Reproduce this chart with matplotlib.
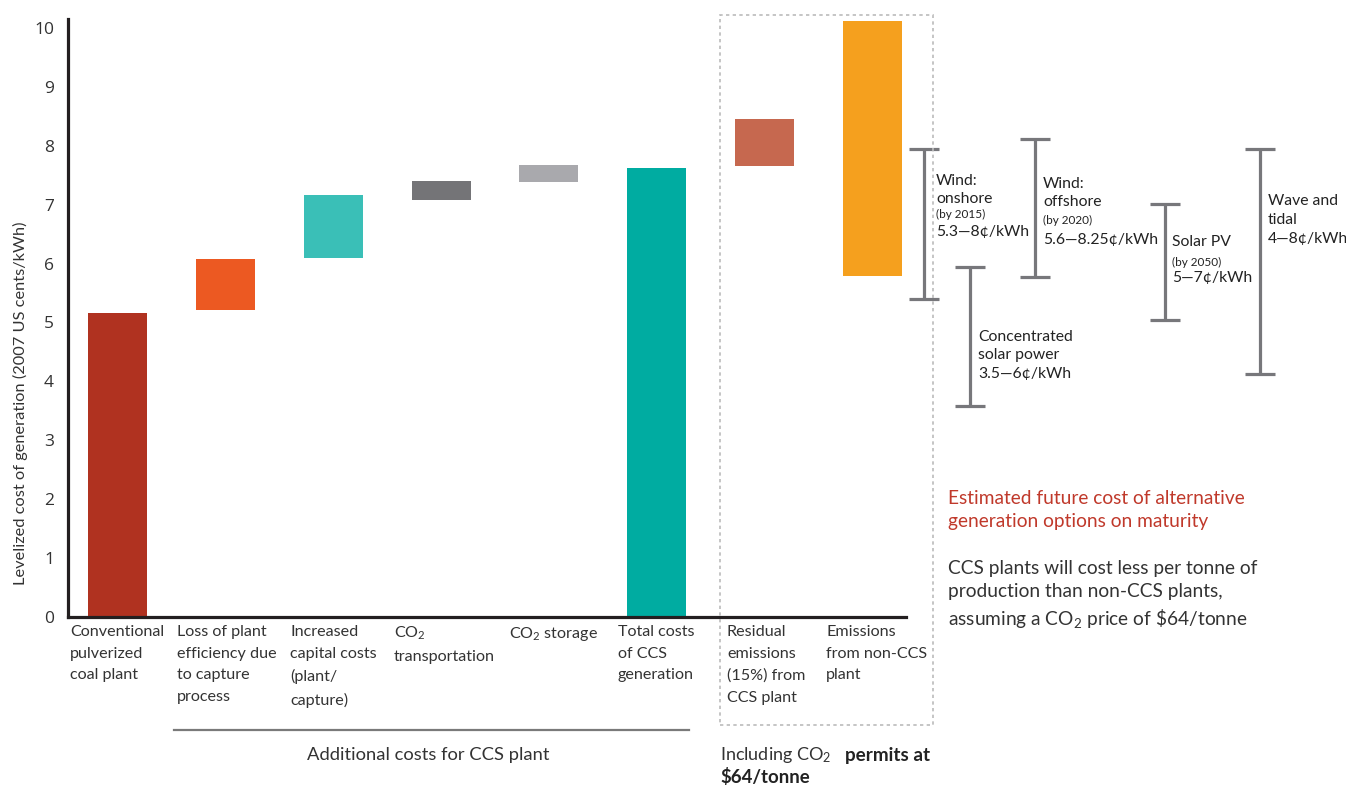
"""CCS plant cost waterfall with alternative generation ranges."""
import matplotlib.pyplot as plt
from matplotlib.patches import Rectangle
from matplotlib.lines import Line2D

plt.rcParams['font.family'] = ['Lato', 'DejaVu Sans']
plt.rcParams['mathtext.fontset'] = 'custom'
plt.rcParams['mathtext.rm'] = 'Lato'
plt.rcParams['mathtext.it'] = 'Lato:italic'
plt.rcParams['mathtext.bf'] = 'Lato:bold'

# bars (floating waterfall)
categories = [
    "Conventional\npulverized\ncoal plant",
    "Loss of plant\nefficiency due\nto capture\nprocess",
    "Increased\ncapital costs\n(plant/\ncapture)",
    "CO$_2$\ntransportation",
    "CO$_2$ storage",
    "Total costs\nof CCS\ngeneration",
    "Residual\nemissions\n(15%) from\nCCS plant",
    "Emissions\nfrom non-CCS\nplant",
]
bar_bottoms = [0, 5.21, 6.09, 7.08, 7.39, 0, 7.66, 5.79]
bar_tops = [5.16, 6.08, 7.16, 7.40, 7.67, 7.62, 8.45, 10.12]
bar_colors = ["#B03220", "#EC5922", "#3ABFB7", "#747477", "#A9A9AD",
              "#00ACA1", "#C6684F", "#F5A01E"]

# alternative generation options (range bars)
range_low = [5.40, 3.58, 5.78, 5.04, 4.13]
range_high = [7.95, 5.95, 8.11, 7.01, 7.94]
range_pos = [7.475, 7.903, 8.504, 9.715, 10.595]
range_labels = [
    ["Wind:", "onshore", "(by 2015)", "5.3\u20148\u00a2/kWh"],
    ["Concentrated", "solar power", "3.5\u20146\u00a2/kWh"],
    ["Wind:", "offshore", "(by 2020)", "5.6\u20148.25\u00a2/kWh"],
    ["Solar PV", "(by 2050)", "5\u20147\u00a2/kWh"],
    ["Wave and", "tidal", "4\u20148\u00a2/kWh"],
]

W, H = 1346, 787
X0, XSTEP = 117.5, 107.86   # pixel of first bar centre, bar spacing
Y0, YSTEP = 617, 58.9       # pixel of y=0, pixels per unit


def px(x):
    return (x - X0) / XSTEP


def py(y):
    return (Y0 - y) / YSTEP


fig = plt.figure(figsize=(W / 100, H / 100), dpi=100)
ax = fig.add_axes([68 / W, (H - Y0) / H, 1 - 68 / W, (Y0 - 19) / H])
ax.set_xlim(px(68), px(W))
ax.set_ylim(0, py(19))

xs = list(range(len(categories)))
heights = [t - b for t, b in zip(bar_tops, bar_bottoms)]
ax.bar(xs, heights, bottom=bar_bottoms, width=0.547, color=bar_colors, zorder=2)

for x, lo, hi in zip(range_pos, range_low, range_high):
    ax.errorbar(x, (lo + hi) / 2, yerr=(hi - lo) / 2, fmt='none',
                ecolor="#77777B", elinewidth=2.3, capsize=10.5, capthick=2.3,
                zorder=3)

# range labels
text_x = [936, 978, 1043, 1172, 1268]
text_y = [
    [181, 199, 214, 232],
    [337, 355, 374],
    [184, 202, 220, 240],
    [242, 262, 278],
    [201, 220, 239],
]
for tx, ys, lines in zip(text_x, text_y, range_labels):
    for yy, line in zip(ys, lines):
        small = line.startswith("(by")
        ax.text(px(tx), py(yy), line, fontsize=8.5 if small else 11.3,
                color="#222222", va='center', ha='left', zorder=4)

# axes styling
for s in ['top', 'right']:
    ax.spines[s].set_visible(False)
ax.spines['left'].set_linewidth(2.3)
ax.spines['bottom'].set_linewidth(2.3)
ax.spines['left'].set_color("#231F20")
ax.spines['bottom'].set_color("#231F20")
ax.spines['bottom'].set_bounds(px(68), px(906))
ax.set_xticks([])
ax.set_yticks(range(0, 11))
ax.tick_params(axis='y', length=0, pad=10, labelsize=12.5, labelcolor="#333333")
for lab in ax.get_yticklabels():
    lab.set_fontfamily('Open Sans')
fig.text(20 / W, 1 - 585 / H, "Levelized cost of generation (2007 US cents/kWh)",
         fontsize=11.8, color="#333333", rotation=90, rotation_mode='anchor',
         ha='left', va='center')

# category labels
label_x = [70, 177, 290, 394, 509, 618, 727, 826]
for lx, cat in zip(label_x, categories):
    fig.text(lx / W, 1 - 625 / H, cat, fontsize=11.6, color="#333333",
             ha='left', va='top', linespacing=1.7)

# dotted box around CO2 permit bars
fig.add_artist(Rectangle((720 / W, 1 - 725 / H), 213 / W, 710 / H,
                         transform=fig.transFigure, fill=False,
                         ec="#BBBBBB", lw=1.2, ls=(0, (2, 2))))
# underline for additional costs
fig.add_artist(Line2D([174 / W, 689 / W], [1 - 730 / H, 1 - 730 / H],
                      transform=fig.transFigure, color="#7A7A7A", lw=1.6))

fig.text(428 / W, 1 - 755 / H, "Additional costs for CCS plant", fontsize=13.2,
         color="#333333", ha='center', va='center')
fig.text(720 / W, 1 - 755 / H, "Including CO$_2$", fontsize=13,
         color="#333333", ha='left', va='center')
fig.text(845 / W, 1 - 755 / H, "permits at", fontsize=13.6, fontweight='bold',
         color="#222222", ha='left', va='center')
fig.text(720 / W, 1 - 777 / H, "$64/tonne", fontsize=13.4, fontweight='bold',
         color="#222222", ha='left', va='center')

fig.text(948 / W, 1 - 490 / H,
         "Estimated future cost of alternative\ngeneration options on maturity",
         fontsize=13.8, color="#C0392B", ha='left', va='top', linespacing=1.42)
fig.text(948 / W, 1 - 560 / H,
         "CCS plants will cost less per tonne of\nproduction than non-CCS plants,\n"
         "assuming a CO$_2$ price of \\$64/tonne",
         fontsize=13.8, color="#333333", ha='left', va='top', linespacing=1.42)

fig.savefig("out.png", dpi=100)
